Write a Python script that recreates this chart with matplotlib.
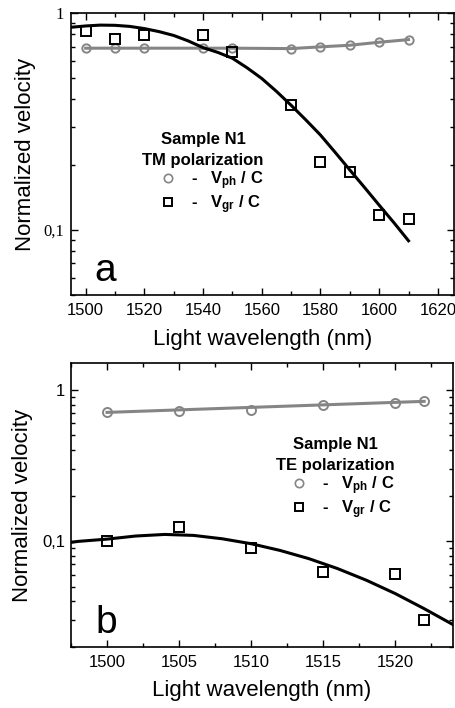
import numpy as np
import matplotlib
matplotlib.use('Agg')
import matplotlib.pyplot as plt
from matplotlib.lines import Line2D
from matplotlib.ticker import MultipleLocator, LogLocator, NullFormatter

plt.rcParams['font.family'] = 'Liberation Sans'
plt.rcParams['mathtext.fontset'] = 'custom'
plt.rcParams['mathtext.bf'] = 'Liberation Sans:bold'
plt.rcParams['mathtext.rm'] = 'Liberation Sans'

# ---- panel a : TM polarization ----
wl_a = [1500, 1510, 1520, 1540, 1550, 1570, 1580, 1590, 1600, 1610]
vph_a = [0.69, 0.69, 0.69, 0.69, 0.69, 0.687, 0.70, 0.712, 0.735, 0.756]
wl_gr_a = [1500, 1510, 1520, 1540, 1550, 1570, 1580, 1590, 1600, 1610]
vgr_a = [0.829, 0.759, 0.792, 0.792, 0.665, 0.376, 0.205, 0.184, 0.117, 0.112]
# fitted curve
fit_wl_a = [1495, 1500, 1505, 1510, 1515, 1520, 1525, 1530, 1535, 1540, 1545, 1550,
            1555, 1560, 1565, 1570, 1575, 1580, 1585, 1590, 1595, 1600, 1605, 1610]
fit_v_a = [0.862, 0.874, 0.882, 0.880, 0.870, 0.850, 0.823, 0.790, 0.745, 0.694, 0.660, 0.620,
           0.560, 0.500, 0.436, 0.376, 0.322, 0.274, 0.228, 0.189, 0.157, 0.130, 0.108, 0.089]

# ---- panel b : TE polarization ----
wl_b = [1500, 1505, 1510, 1515, 1520, 1522]
vph_b = [0.712, 0.727, 0.738, 0.796, 0.821, 0.846]
line_wl_b = [1500, 1522]
line_v_b = [0.71, 0.84]
vgr_b = [0.1005, 0.1238, 0.0899, 0.0624, 0.0605, 0.0302]
fit_wl_b = [1497.5, 1498, 1500, 1502, 1504, 1506, 1508, 1510, 1512, 1514, 1516, 1518, 1520, 1522, 1524]
fit_v_b = [0.098, 0.0995, 0.103, 0.108, 0.1106, 0.109, 0.1035, 0.096, 0.0867, 0.0765,
           0.0657, 0.055, 0.0449, 0.0357, 0.028]

grey = '#858585'

fig = plt.figure(figsize=(4.56, 7.08), dpi=100)
ax1 = fig.add_axes([71/456, 1-295/708, 383/456, (295-13.3)/708])
ax2 = fig.add_axes([71/456, 1-646.7/708, 382/456, (646.7-363.3)/708])

def style(ax):
    ax.set_yscale('log')
    ax.tick_params(which='both', direction='in', top=True, right=True, width=1)
    ax.tick_params(which='major', length=5)
    ax.tick_params(which='minor', length=3)
    ax.yaxis.set_minor_locator(LogLocator(base=10, subs=np.arange(2, 10)))
    ax.yaxis.set_minor_formatter(NullFormatter())
    for s in ax.spines.values():
        s.set_linewidth(1.2)

def legend(ax, title, anchor):
    h_ph = Line2D([], [], ls='none', marker='o', ms=6, mfc='none', mec=grey, mew=1.2)
    h_gr = Line2D([], [], ls='none', marker='s', ms=5.5, mfc='none', mec='black', mew=1.4)
    labels = [r'-   $\mathbf{V_{ph}}$ / C', r'-   $\mathbf{V_{gr}}$ / C']
    leg = ax.legend([h_ph, h_gr], labels, title=title,
                    loc='center', bbox_to_anchor=anchor, frameon=False,
                    prop={'weight': 'bold', 'size': 12},
                    title_fontproperties={'weight': 'bold', 'size': 12},
                    handlelength=1.6, handletextpad=0.6, labelspacing=0.08, borderpad=0)
    leg.set_alignment('right')
    leg.get_title().set_multialignment('center')
    leg.get_title().set_linespacing(1.5)
    return leg

# panel a
style(ax1)
ax1.plot(wl_a, vph_a, '-', color=grey, lw=2.2, marker='o', ms=6, mfc='none', mec=grey, mew=1.4)
ax1.plot(fit_wl_a, fit_v_a, '-', color='black', lw=2.2)
ax1.plot(wl_gr_a, vgr_a, 's', ms=6.5, mfc='none', mec='black', mew=1.4)
ax1.set_xlim(1495, 1625.5)
ax1.set_ylim(0.05, 1.0)
ax1.xaxis.set_major_locator(MultipleLocator(20))
ax1.xaxis.set_minor_locator(MultipleLocator(10))
ax1.set_yticks([0.1, 1])
ax1.set_yticklabels(['0,1', '1'], fontfamily='Liberation Serif', fontsize=12)
ax1.tick_params(axis='x', labelsize=12, pad=6)
ax1.tick_params(axis='y', pad=5)
ax1.set_xlabel('Light wavelength (nm)', fontsize=16, labelpad=8)
ax1.set_ylabel('Normalized velocity', fontsize=16, labelpad=5)
ax1.text(0.062, 0.05, 'a', transform=ax1.transAxes, fontsize=28)
legend(ax1, 'Sample N1\nTM polarization', (0.345, 0.43))

# panel b
style(ax2)
ax2.plot(line_wl_b, line_v_b, '-', color=grey, lw=2.2)
ax2.plot(wl_b, vph_b, 'o', ms=6.5, mfc='none', mec=grey, mew=1.4)
ax2.plot(fit_wl_b, fit_v_b, '-', color='black', lw=2.2)
ax2.plot(wl_b, vgr_b, 's', ms=6.5, mfc='none', mec='black', mew=1.4)
ax2.set_xlim(1497.5, 1524)
ax2.set_ylim(0.02, 1.5)
ax2.xaxis.set_major_locator(MultipleLocator(5))
ax2.xaxis.set_minor_locator(MultipleLocator(2.5))
ax2.set_yticks([0.1, 1])
ax2.set_yticklabels(['0,1', '1'], fontsize=12)
ax2.tick_params(axis='x', labelsize=12, pad=6)
ax2.tick_params(axis='y', pad=4)
ax2.set_xlabel('Light wavelength (nm)', fontsize=16, labelpad=7)
ax2.set_ylabel('Normalized velocity', fontsize=16, labelpad=7)
ax2.text(0.065, 0.05, 'b', transform=ax2.transAxes, fontsize=28)
legend(ax2, 'Sample N1\nTE polarization', (0.692, 0.592))

fig.savefig('out.png', dpi=100)
